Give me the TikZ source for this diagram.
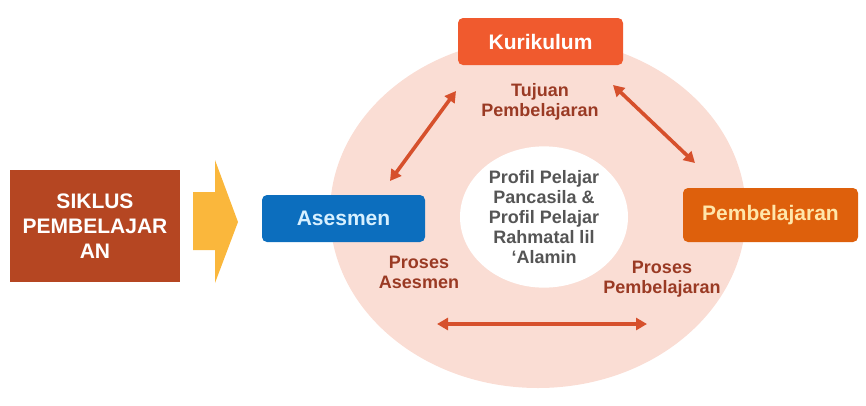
\documentclass[tikz,border=0pt]{standalone}
\usepackage{fontspec}
\setmainfont{Liberation Sans}
\usetikzlibrary{arrows.meta, positioning, shapes.geometric}
\definecolor{cBrick}{RGB}{181,70,34}
\definecolor{cGold}{RGB}{250,183,60}
\definecolor{cPink}{RGB}{250,221,212}
\definecolor{cCoral}{RGB}{240,90,46}
\definecolor{cBlue}{RGB}{12,110,190}
\definecolor{cIce}{RGB}{215,240,255}
\definecolor{cOrange}{RGB}{222,96,12}
\definecolor{cCream}{RGB}{255,230,170}
\definecolor{cRust}{RGB}{154,58,36}
\definecolor{cArrow}{RGB}{214,80,44}
\definecolor{cGrey}{RGB}{85,85,85}
\tikzset{
	stagebox/.style ={rectangle, rounded corners=5pt, minimum height=47pt, align=center, inner sep=0pt, font=\bfseries\fontsize{21}{24}\selectfont},
	phase/.style    ={align=center, text=cRust, font=\bfseries\fontsize{18}{20}\selectfont},
	cyclearrow/.style={{Triangle[length=11pt,width=12pt]}-{Triangle[length=11pt,width=12pt]}, line width=3.6pt, draw=cArrow},
}

\begin{document}
\begin{tikzpicture}[x=1pt, y=-1pt]
	\useasboundingbox (0,0) rectangle (866,405);
	% ring and core
	\fill[cPink] (538,213) ellipse [x radius=208pt, y radius=175pt];
	\node[ellipse, fill=white, minimum width=168pt, minimum height=140pt, align=center, text=cGrey, font=\bfseries\fontsize{18}{20}\selectfont] (core) at (544,217) {Profil Pelajar\\Pancasila \&\\Profil Pelajar\\Rahmatal lil\\‘Alamin};
	% left block and arrow
	\node[rectangle, fill=cBrick, text=white, minimum width=170pt, minimum height=112pt, align=center, font=\bfseries\fontsize{21}{25}\selectfont] (cycle) at (95,226) {SIKLUS\\PEMBELAJAR\\AN};
	\fill[cGold] (193,192) -- (215,192) -- (215,160) -- (238,222) -- (215,283) -- (215,250) -- (193,250) -- cycle;
	% stages
	\node[stagebox, fill=cCoral, text=white, minimum width=165pt] (kur) at (540.5,41.5) {Kurikulum};
	\node[stagebox, fill=cBlue, text=cIce, minimum width=163pt] (ases) at (343.5,218.5) {Asesmen};
	\node[stagebox, fill=cOrange, text=cCream, minimum width=175pt, minimum height=54pt] (pemb) at (770.5,215) {Pembelajaran};
	% phase labels
	\node[phase] (goal) at (540,102) {Tujuan\\Pembelajaran};
	\node[phase] (pa) at (419,272) {Proses\\Asesmen};
	\node[phase] (pp) at (662,279) {Proses\\Pembelajaran};
	% connectors
	\coordinate (tlA) at (390,181);
	\coordinate (tlB) at (456,91);
	\coordinate (trA) at (613,85);
	\coordinate (trB) at (695,163);
	\coordinate (btA) at (437,324);
	\coordinate (btB) at (647,324);
	\draw[cyclearrow] (tlA) -- (tlB);
	\draw[cyclearrow] (trA) -- (trB);
	\draw[cyclearrow] (btA) -- (btB);
\end{tikzpicture}
\end{document}
